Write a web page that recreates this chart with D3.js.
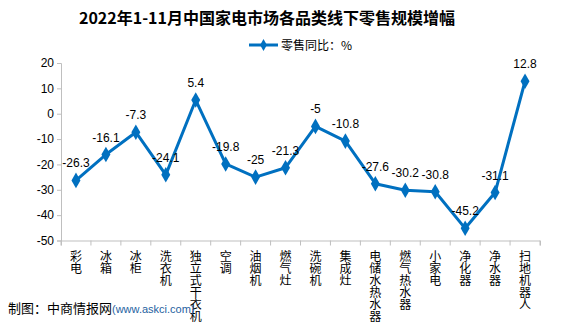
<!DOCTYPE html>
<html><head><meta charset="utf-8">
<script src="https://cdn.jsdelivr.net/npm/d3@7/dist/d3.min.js"></script>
<style>body{margin:0;background:#fff}svg{display:block}</style>
</head><body><svg id="c" width="581" height="325"></svg>
<script>
const categories = ["彩电","冰箱","冰柜","洗衣机","独立式干衣机","空调","油烟机","燃气灶","洗碗机","集成灶","电储水热水器","燃气热水器","小家电","净化器","净水器","扫地机器人"];
const values = [-26.3,-16.1,-7.3,-24.1,5.4,-19.8,-25,-21.3,-5,-10.8,-27.6,-30.2,-30.8,-45.2,-31.1,12.8];
const yTicks = [20,10,0,-10,-20,-30,-40,-50];
const seriesName = "零售同比：%";
const titleText = "2022年1-11月中国家电市场各品类线下零售规模增幅";

const svg = d3.select("#c");
const blue = "#0070c0";
const m = {left:61, right:540, top:63, bottom:240.5};
const x = d3.scaleBand().domain(categories).range([m.left, m.right]);
const y = d3.scaleLinear().domain([-50,20]).range([m.bottom, m.top]);
const cjk = "'Noto Sans CJK SC', 'Noto Sans', sans-serif";

svg.append("text").attr("x",267).attr("y",24).attr("text-anchor","middle")
  .attr("font-family",cjk).attr("font-weight","bold").attr("font-size",16).attr("fill","#000").text(titleText);

// legend
const lg = svg.append("g");
lg.append("line").attr("x1",249).attr("x2",278).attr("y1",45).attr("y2",45).attr("stroke",blue).attr("stroke-width",3);
lg.append("path").attr("d",d3.symbol(d3.symbolDiamond,40)()).attr("transform","translate(263.5,45)").attr("fill",blue);
lg.append("text").attr("x",281).attr("y",49.5).attr("font-family",cjk).attr("font-size",12).attr("fill","#000").text(seriesName);

// y axis
const ya = svg.append("g").attr("transform",`translate(${m.left},0)`)
  .call(d3.axisLeft(y).tickValues(yTicks).tickSize(4).tickFormat(d=>d));
ya.select(".domain").attr("stroke","#bfbfbf");
ya.selectAll(".tick line").attr("stroke","#bfbfbf");
ya.selectAll("text").attr("font-family","'Liberation Sans', sans-serif").attr("font-size",12).attr("fill","#000").attr("x",-7);

// x axis
const xa = svg.append("g").attr("transform",`translate(0,${m.bottom})`)
  .call(d3.axisBottom(x).tickSize(5).tickFormat(""));
xa.select(".domain").attr("stroke","#bfbfbf");
xa.selectAll(".tick line").attr("stroke","#bfbfbf").attr("transform",`translate(${-x.bandwidth()/2},0)`);
xa.append("line").attr("x1",m.right).attr("x2",m.right).attr("y1",0).attr("y2",5).attr("stroke","#bfbfbf");

const cx = c => x(c)+x.bandwidth()/2;
svg.append("g").selectAll("text").data(categories).join("text")
  .attr("x",cx).attr("y",250)
  .style("writing-mode","vertical-rl").style("text-orientation","upright")
  .attr("font-family",cjk).attr("font-size",12).attr("fill","#000").text(d=>d);

// line
svg.append("path").datum(categories.map((c,i)=>[cx(c),y(values[i])]))
  .attr("d",d3.line()).attr("fill","none").attr("stroke",blue).attr("stroke-width",3).attr("stroke-linejoin","round");
svg.append("g").selectAll("path").data(categories).join("path")
  .attr("d",d3.symbol(d3.symbolDiamond,70)())
  .attr("transform",(c,i)=>`translate(${cx(c)},${y(values[i])})`).attr("fill",blue);
svg.append("g").selectAll("text").data(categories).join("text")
  .attr("x",cx).attr("y",(c,i)=>y(values[i])-13).attr("text-anchor","middle")
  .attr("font-family","'Liberation Sans', sans-serif").attr("font-size",12).attr("fill","#000")
  .text((c,i)=>values[i]);

// footer
const f = svg.append("text").attr("x",8).attr("y",313).attr("font-size",13);
f.append("tspan").attr("font-family",cjk).attr("fill","#000").text("制图：中商情报网");
f.append("tspan").attr("font-family","'Liberation Sans', sans-serif").attr("font-size",11).attr("fill","#1f5f9f").text("(www.askci.com)");
</script></body></html>
